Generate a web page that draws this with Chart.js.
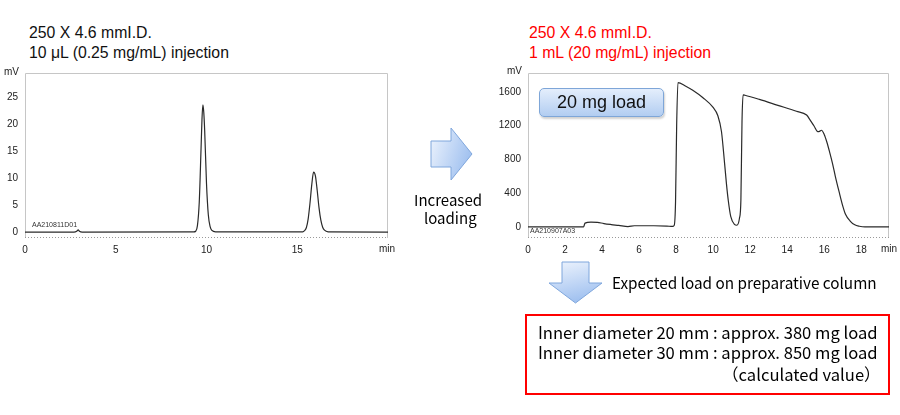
<!DOCTYPE html>
<html>
<head>
<meta charset="utf-8">
<script src="https://cdn.jsdelivr.net/npm/chart.js@4/dist/chart.umd.min.js"></script>
<style>
  body { margin: 0; background: #fff; }
  #page { position: relative; width: 900px; height: 415px; overflow: hidden; font-family: "Liberation Sans", Arial, sans-serif; }
  .t { position: absolute; white-space: nowrap; line-height: 1; }
  .title { font-size: 15.8px; color: #111; }
  .red { color: #ff0000; }
  .ax { font-size: 10px; color: #222; }
  .sid { font-size: 7px; color: #333; }
  .jp { font-family: "Noto Sans CJK JP", "Noto Sans", sans-serif; color: #000; }
  #loadBox { position: absolute; left: 539px; top: 88px; width: 123px; height: 27px; border: 1px solid #7ea6d8; border-radius: 5px;
    background: linear-gradient(#e4eefc, #b2cdf1); box-shadow: 1px 2px 2px rgba(0,0,0,0.18);
    font-size: 18px; color: #111; text-align: center; line-height: 27px; }
  #redBox { position: absolute; left: 525px; top: 314px; width: 361px; height: 77px; border: 2px solid #ff0000; }
  canvas { position: absolute; }
</style>
</head>
<body>
<div id="page">
  <div class="t title" style="left:29px; top:25px;">250 X 4.6 mmI.D.</div>
  <div class="t title" style="left:29px; top:45px;">10 μL (0.25 mg/mL) injection</div>
  <div class="t title red" style="left:529px; top:25px;">250 X 4.6 mmI.D.</div>
  <div class="t title red" style="left:529px; top:45px;">1 mL (20 mg/mL) injection</div>

  <div id="leftWrap" style="position:absolute; left:0; top:60px; width:400px; height:200px;"><canvas id="leftChart"></canvas></div>
  <div id="rightWrap" style="position:absolute; left:480px; top:60px; width:420px; height:200px;"><canvas id="rightChart"></canvas></div>

  <div class="t ax" style="left:4px; top:67px;">mV</div>
  <div class="t ax" style="left:379px; top:244px;">min</div>
  <div class="t sid" style="left:32px; top:221px;">AA210811D01</div>

  <div class="t ax" style="left:507px; top:66px;">mV</div>
  <div class="t ax" style="left:881px; top:244px;">min</div>
  <div class="t sid" style="left:530px; top:227px;">AA210907A03</div>

  <div id="loadBox">20 mg load</div>

  <svg width="900" height="415" style="position:absolute; left:0; top:0; pointer-events:none;">
    <defs>
      <linearGradient id="gR" x1="0" y1="0" x2="1" y2="0.4">
        <stop offset="0" stop-color="#eef4fd"/>
        <stop offset="1" stop-color="#a2c2f0"/>
      </linearGradient>
      <linearGradient id="gD" x1="0" y1="0" x2="0.3" y2="1">
        <stop offset="0" stop-color="#eef4fd"/>
        <stop offset="1" stop-color="#a2c2f0"/>
      </linearGradient>
    </defs>
    <polygon points="431,141 451,141 451,128 472,154 451,180 451,167 431,167" fill="url(#gR)" stroke="#7fa6dc" stroke-width="1"/>
    <polygon points="562,262 589,262 589,283 602,283 575.5,303 549,283 562,283" fill="url(#gD)" stroke="#7fa6dc" stroke-width="1"/>
  </svg>

  <div class="t jp" style="left:414px; top:192px; font-size:15px;">Increased</div>
  <div class="t jp" style="left:424px; top:210px; font-size:15px;">loading</div>
  <div class="t jp" style="left:612px; top:275px; font-size:15.3px;">Expected load on preparative column</div>

  <div id="redBox"></div>
  <div class="t jp" style="left:538px; top:324px; font-size:16.6px;">Inner diameter 20 mm : approx. 380 mg load</div>
  <div class="t jp" style="left:538px; top:344px; font-size:16.6px;">Inner diameter 30 mm : approx. 850 mg load</div>
  <div class="t jp" style="left:722px; top:366px; font-size:16.6px;">（calculated value）</div>
</div>

<script>
// 10 uL analytical injection
const leftTime   = [0, 2.7, 2.85, 2.93, 3.0, 3.15, 9.3, 9.4, 9.5, 9.6, 9.7, 9.75, 9.8, 9.85, 9.9, 10.0, 10.1, 10.2, 10.3, 10.5,
                    15.3, 15.4, 15.5, 15.6, 15.7, 15.8, 15.9, 16.0, 16.1, 16.2, 16.3, 16.4, 16.5, 16.7, 20];
const leftSignal = [0, 0, 0.15, 0.4, 0.15, 0, 0.02, 0.15, 1.2, 5.5, 15.5, 20.8, 23.6, 22.2, 18.8, 9.0, 3.2, 1.0, 0.3, 0.05,
                    0.05, 0.25, 0.8, 2.4, 5.3, 8.8, 11.1, 10.4, 7.7, 4.5, 2.2, 0.9, 0.35, 0.05, 0];
const leftXTicks = [0, 5, 10, 15];
const leftYTicks = [0, 5, 10, 15, 20, 25];

// 1 mL overload injection
const rightTime   = [0, 3.0, 3.08, 3.4, 3.75, 4.1, 4.5, 4.9, 5.4, 5.75, 6.8, 7.5, 7.8, 7.9, 7.97, 8.03, 8.1, 8.5, 8.9, 9.45,
                     10.0, 10.25, 10.45, 10.62, 10.72, 10.82, 10.95, 11.15, 11.28, 11.42, 11.5, 11.56, 11.62, 11.72,
                     12.5, 13.5, 14.5, 15.05, 15.25, 15.45, 15.65, 15.75, 15.85, 16.0, 16.15, 16.3, 16.45, 16.6, 16.8,
                     17.0, 17.15, 17.4, 17.65, 17.9, 18.2, 19.5];
const rightSignal = [0, 0, 45, 58, 55, 40, 28, 18, 4, 14, 14, 10, 6, 20, 300, 1200, 1710, 1670, 1618, 1530,
                     1415, 1320, 1130, 750, 510, 310, 125, 30, 20, 100, 320, 1250, 1565, 1560,
                     1510, 1440, 1370, 1325, 1262, 1195, 1128, 1132, 1145, 1095, 1000, 880, 750, 600, 420,
                     250, 150, 70, 25, 8, 0, 0];
const rightXTicks = [0, 2, 4, 6, 8, 10, 12, 14, 16, 18];
const rightYTicks = [0, 400, 800, 1200, 1600];

const framePlugin = {
  id: 'frame',
  beforeDatasetsDraw(chart) {
    const a = chart.chartArea, c = chart.ctx;
    c.save();
    c.strokeStyle = '#c6c6c6';
    c.lineWidth = 1;
    c.beginPath();
    c.moveTo(a.left + 0.5, a.bottom);
    c.lineTo(a.left + 0.5, a.top + 0.5);
    c.lineTo(a.right - 0.5, a.top + 0.5);
    c.lineTo(a.right - 0.5, a.bottom);
    c.stroke();
    c.setLineDash([1, 2]);
    c.strokeStyle = '#999';
    c.beginPath();
    c.moveTo(a.left, a.bottom - 0.5);
    c.lineTo(a.right, a.bottom - 0.5);
    c.stroke();
    c.restore();
  }
};

function makeChart(id, xs, ys, xTicks, yTicks, xMax, yMin, yMax, yWidth, padRight) {
  const tickFont = { family: '"Liberation Sans", Arial, sans-serif', size: 10 };
  return new Chart(document.getElementById(id), {
    type: 'line',
    data: {
      datasets: [{
        data: xs.map((x, i) => ({ x: x, y: ys[i] })),
        borderColor: '#2a2a2a',
        borderWidth: 1.2,
        pointRadius: 0,
        cubicInterpolationMode: 'monotone'
      }]
    },
    options: {
      responsive: true,
      maintainAspectRatio: false,
      animation: false,
      layout: { padding: { top: 8, right: padRight, left: 0, bottom: 0 } },
      plugins: { legend: { display: false }, tooltip: { enabled: false } },
      scales: {
        x: {
          type: 'linear', min: 0, max: xMax,
          grid: { display: false, drawTicks: false },
          border: { display: false },
          ticks: { color: '#222', font: tickFont, padding: 6, maxRotation: 0, callback: v => String(v) },
          afterBuildTicks: s => { s.ticks = xTicks.map(v => ({ value: v })); },
          afterFit: s => { s.height = 22; }
        },
        y: {
          min: yMin, max: yMax,
          grid: { display: false, drawTicks: false },
          border: { display: false },
          ticks: { color: '#222', font: tickFont, padding: 7, callback: v => String(v) },
          afterBuildTicks: s => { s.ticks = yTicks.map(v => ({ value: v })); },
          afterFit: s => { s.width = yWidth; }
        }
      }
    },
    plugins: [framePlugin]
  });
}

makeChart('leftChart', leftTime, leftSignal, leftXTicks, leftYTicks, 20, -1.1, 29.5, 25, 12);
makeChart('rightChart', rightTime, rightSignal, rightXTicks, rightYTicks, 19.5, -131, 1823, 48, 11);
</script>
</body>
</html>
